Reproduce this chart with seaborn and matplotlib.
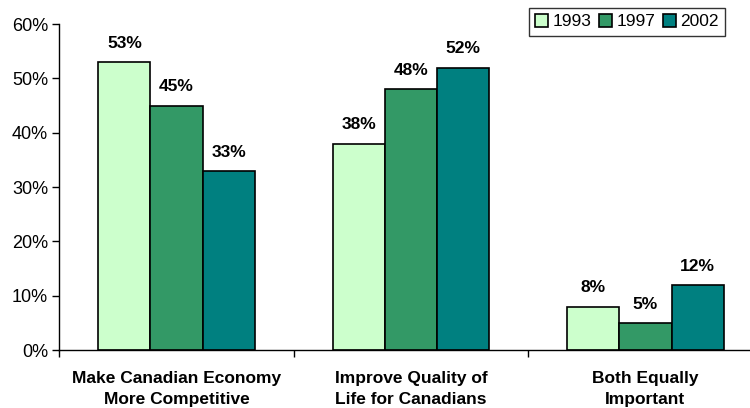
import matplotlib
matplotlib.use("Agg")
import matplotlib.pyplot as plt
import seaborn as sns
import pandas as pd
from matplotlib.ticker import FixedLocator, PercentFormatter

categories = ["Make Canadian Economy\nMore Competitive",
              "Improve Quality of\nLife for Canadians",
              "Both Equally\nImportant"]
years = ["1993", "1997", "2002"]
values_1993 = [53, 38, 8]
values_1997 = [45, 48, 5]
values_2002 = [33, 52, 12]
palette = ["#CCFFCC", "#339966", "#008080"]

df = pd.DataFrame({
    "category": categories * 3,
    "year": [y for y in years for _ in categories],
    "value": values_1993 + values_1997 + values_2002,
})

sns.set_style("white")
plt.rcParams["font.family"] = ["Liberation Sans", "DejaVu Sans"]
plt.rcParams["text.color"] = "black"
plt.rcParams["axes.labelcolor"] = "black"
plt.rcParams["xtick.color"] = "black"
plt.rcParams["ytick.color"] = "black"

fig = plt.figure(figsize=(7.5, 4.08), dpi=100)
ax = fig.add_axes([0.079, 0.142, 0.938, 0.799])

sns.barplot(data=df, x="category", y="value", hue="year", palette=palette,
            width=0.667, edgecolor="black", linewidth=1.2, ax=ax,
            saturation=1, legend=True)

for cont in ax.containers:
    ax.bar_label(cont, labels=[f"{v:.0f}%" for v in cont.datavalues],
                 padding=8, fontsize=12.5, fontweight="bold", color="black")

ax.set_ylim(0, 60)
ax.set_xlim(-0.5, 2.5)
ax.yaxis.set_major_formatter(PercentFormatter(decimals=0))
ax.set_yticks(range(0, 61, 10))
ax.tick_params(axis="y", direction="out", length=5, width=1, color="black",
               labelcolor="black", labelsize=13, pad=3, left=True)
ax.xaxis.set_minor_locator(FixedLocator([-0.5, 0.5, 1.5, 2.5]))
ax.tick_params(axis="x", which="major", length=0, labelsize=12.5, pad=15,
               labelcolor="black")
ax.tick_params(axis="x", which="minor", direction="out", length=5,
               width=1, color="black", bottom=True)
for lab in ax.get_xticklabels():
    lab.set_fontweight("bold")
    lab.set_linespacing(1.5)
ax.set_xlabel("")
ax.set_ylabel("")

for side in ["top", "right"]:
    ax.spines[side].set_visible(False)
for side in ["left", "bottom"]:
    ax.spines[side].set_color("black")
    ax.spines[side].set_linewidth(1)

leg = ax.legend(title=None, ncol=3, loc="upper left",
                bbox_to_anchor=(529 / 750, 1 - 8 / 408),
                bbox_transform=fig.transFigure,
                fontsize=12.5, frameon=True, fancybox=False,
                handlelength=0.75, handleheight=0.75, handletextpad=0.25,
                columnspacing=0.45, borderpad=0.35, borderaxespad=0)
leg.get_frame().set_edgecolor("black")
leg.get_frame().set_linewidth(1)
for h in leg.legend_handles:
    h.set_edgecolor("black")
for t in leg.get_texts():
    t.set_color("black")

fig.savefig("out.png", dpi=100)
